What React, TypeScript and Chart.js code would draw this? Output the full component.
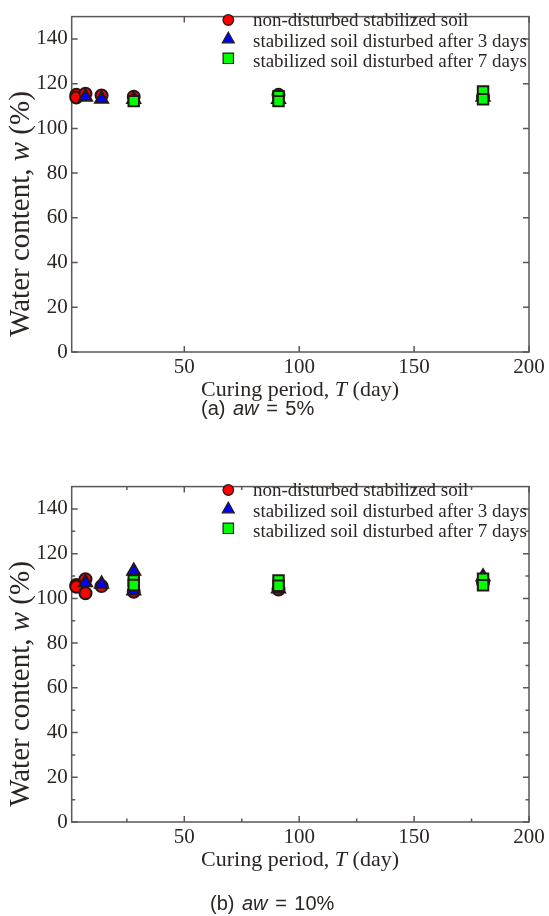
import React, { useEffect, useRef } from "react";
import { Chart, registerables } from "chart.js";
Chart.register(...registerables);

const seriesNames = [
  "non-disturbed stabilized soil",
  "stabilized soil disturbed after 3 days",
  "stabilized soil disturbed after 7 days",
];
const xTicks = [50, 100, 150, 200];
const xMinorTicks = [25, 75, 125, 175];
const yTicks = [0, 20, 40, 60, 80, 100, 120, 140];
const yMinorTicks = [10, 30, 50, 70, 90, 110, 130];

// (a) aw = 5%
const aNonDays = [3, 3, 7, 14, 28, 91, 180];
const aNonW = [115, 113.8, 115.5, 114.7, 114.2, 115, 114];
const aD3Days = [7, 14, 28, 91, 180];
const aD3W = [114, 113.2, 113, 113, 114];
const aD7Days = [28, 91, 91, 180, 180];
const aD7W = [112.2, 114.4, 112.2, 116.5, 113];

// (b) aw = 10%
const bNonDays = [3, 3, 7, 7, 14, 28, 91, 180];
const bNonW = [106, 105.2, 108.6, 102.3, 105.5, 103, 104, 107];
const bD3Days = [7, 14, 28, 28, 91, 180];
const bD3W = [107.1, 106.4, 112.2, 103.4, 104.3, 109.7];
const bD7Days = [28, 28, 91, 91, 180, 180];
const bD7W = [108, 106, 108, 105.7, 108.8, 105.9];

const SERIF = "'Liberation Serif', 'Times New Roman', serif";
const INK = "#2b2523";
const EDGE = "#231815";
const FILLS = ["#ff0000", "#0000ff", "#00ff00"];
const STYLES = ["circle", "triangle", "rect"];
const RADII = [6, 7.5, 7.4];

function drawRich(ctx: CanvasRenderingContext2D, parts: [string, boolean][], size: number, x: number, y: number, align: "left" | "center") {
  const widths = parts.map(([t, it]) => {
    ctx.font = `${it ? "italic " : ""}${size}px ${SERIF}`;
    return ctx.measureText(t).width;
  });
  const total = widths.reduce((a, b) => a + b, 0);
  let cx = align === "center" ? x - total / 2 : x;
  ctx.textAlign = "left";
  parts.forEach(([t, it], i) => {
    ctx.font = `${it ? "italic " : ""}${size}px ${SERIF}`;
    ctx.fillText(t, cx, y);
    cx += widths[i];
  });
}

const framePlugin = {
  id: "frame",
  beforeDatasetsDraw(chart: any, _a: any, opts: any) {
    const { ctx, chartArea: a, scales } = chart;
    const x = scales.x, y = scales.y;
    ctx.save();
    ctx.strokeStyle = "#5c5656";
    ctx.lineWidth = 1.5;
    ctx.strokeRect(a.left, a.top, a.right - a.left, a.bottom - a.top);
    ctx.beginPath();
    const tick = (list: number[], len: number) => {
      for (const v of list) {
        const px = x.getPixelForValue(v);
        ctx.moveTo(px, a.bottom); ctx.lineTo(px, a.bottom - len);
        ctx.moveTo(px, a.top); ctx.lineTo(px, a.top + len);
      }
    };
    const ytick = (list: number[], len: number) => {
      for (const v of list) {
        const py = y.getPixelForValue(v);
        ctx.moveTo(a.left, py); ctx.lineTo(a.left + len, py);
        ctx.moveTo(a.right, py); ctx.lineTo(a.right - len, py);
      }
    };
    tick(xTicks, 6);
    ytick(yTicks, 6);
    if (opts.minor) {
      tick(xMinorTicks, 3.5);
      ytick(yMinorTicks, 3.5);
    }
    ctx.stroke();
    ctx.restore();
  },
  afterDraw(chart: any) {
    const { ctx, chartArea: a } = chart;
    ctx.save();
    ctx.fillStyle = INK;
    ctx.textBaseline = "alphabetic";
    // x title
    drawRich(ctx, [["Curing period, ", false], ["T", true], [" (day)", false]], 22, 300, a.bottom + 43.5, "center");
    // y title
    ctx.save();
    ctx.translate(29, 214);
    ctx.rotate(-Math.PI / 2);
    drawRich(ctx, [["Water content, ", false], ["w", true], [" (%)", false]], 29, 0, 0, "center");
    ctx.restore();
    // legend
    const mx = 228.3;
    const rows = [20, 38.3, 58.3];
    const texts = [25.7, 46.7, 66.7];
    for (let i = 0; i < 3; i++) {
      ctx.fillStyle = FILLS[i];
      ctx.strokeStyle = EDGE;
      ctx.lineWidth = 1.2;
      ctx.beginPath();
      const cy = rows[i];
      if (i === 0) {
        ctx.arc(mx, cy, 5.3, 0, Math.PI * 2);
      } else if (i === 1) {
        ctx.moveTo(mx, cy - 6);
        ctx.lineTo(mx + 6, cy + 4.5);
        ctx.lineTo(mx - 6, cy + 4.5);
        ctx.closePath();
      } else {
        ctx.rect(mx - 5.2, cy - 5.2, 10.4, 10.4);
      }
      ctx.fill();
      ctx.stroke();
      ctx.fillStyle = INK;
      ctx.font = `19px ${SERIF}`;
      ctx.textAlign = "left";
      ctx.fillText(seriesNames[i], 253, texts[i]);
    }
    ctx.restore();
  },
};

type PanelProps = { top: number; minor: boolean; days: number[][]; w: number[][] };

function Panel({ top, minor, days, w }: PanelProps) {
  const ref = useRef<HTMLCanvasElement | null>(null);
  useEffect(() => {
    if (!ref.current) return;
    const H = 446;
    const datasets = [0, 1, 2].map((i) => ({
      label: seriesNames[i],
      data: days[i].map((d, k) => ({ x: d, y: w[i][k] })),
      pointStyle: STYLES[i],
      pointRadius: RADII[i],
      pointBackgroundColor: FILLS[i],
      pointBorderColor: EDGE,
      pointBorderWidth: 2,
      showLine: false,
      order: 2 - i,
      clip: false as any,
    }));
    const chart = new Chart(ref.current, {
      type: "scatter",
      data: { datasets },
      options: {
        animation: false,
        responsive: false,
        events: [],
        layout: { padding: { top: 9.3, right: 20, left: 0, bottom: 0 } },
        plugins: { legend: { display: false }, tooltip: { enabled: false }, frame: { minor } } as any,
        scales: {
          x: {
            type: "linear",
            min: 1,
            max: 200,
            grid: { display: false, drawTicks: false },
            border: { display: false },
            afterBuildTicks: (s: any) => { s.ticks = xTicks.map((v) => ({ value: v })); },
            afterFit: (s: any) => { s.height = H - 352; },
            ticks: { padding: 3, color: INK, font: { family: SERIF, size: 21 } },
          },
          y: {
            type: "linear",
            min: 0,
            max: 150,
            grid: { display: false, drawTicks: false },
            border: { display: false },
            afterBuildTicks: (s: any) => { s.ticks = yTicks.map((v) => ({ value: v })); },
            afterFit: (s: any) => { s.width = 71.7; },
            ticks: { padding: 4, color: INK, font: { family: SERIF, size: 21 } },
          },
        },
      },
      plugins: [framePlugin],
    });
    return () => chart.destroy();
  }, []);
  return (
    <canvas ref={ref} width={549} height={446} style={{ position: "absolute", left: 0, top, width: 549, height: 446 }} />
  );
}

const capStyle: React.CSSProperties = {
  position: "absolute",
  fontFamily: "'Liberation Sans', Arial, sans-serif",
  fontSize: 20,
  wordSpacing: 2,
  color: INK,
  whiteSpace: "pre",
  lineHeight: "20px",
};

export default function App() {
  return (
    <div style={{ position: "absolute", left: 0, top: 0, width: 549, height: 916, background: "#fff", overflow: "hidden" }}>
      <Panel top={0} minor={false} days={[aNonDays, aD3Days, aD7Days]} w={[aNonW, aD3W, aD7W]} />
      <div style={{ ...capStyle, left: 201, top: 398 }}>
        (a) <i>aw</i> = 5%
      </div>
      <Panel top={470} minor={true} days={[bNonDays, bD3Days, bD7Days]} w={[bNonW, bD3W, bD7W]} />
      <div style={{ ...capStyle, left: 210, top: 893 }}>
        (b) <i>aw</i> = 10%
      </div>
    </div>
  );
}
